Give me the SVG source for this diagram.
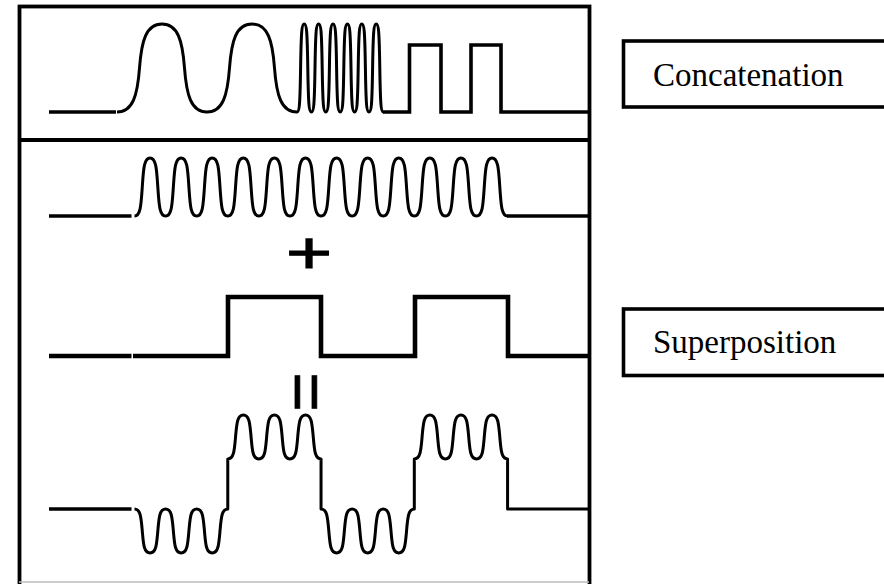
<svg xmlns="http://www.w3.org/2000/svg" width="884" height="584" viewBox="0 0 884 584">
  <style>
    .frame { fill: none; stroke: #000; stroke-width: 3.8; }
    .wave { fill: none; stroke: #000; stroke-width: 3; stroke-linejoin: round; }
    .flat { fill: none; stroke: #000; stroke-width: 3.5; }
    .square { fill: none; stroke: #000; stroke-linejoin: miter; stroke-linecap: butt; }
    .label-box { fill: #fff; stroke: #000; stroke-width: 3.6; }
    .label { font-family: "Liberation Serif", "Times New Roman", serif; font-size: 33px; fill: #000; }
    .op { font-family: "Liberation Sans", Arial, sans-serif; fill: #000; stroke: #000; text-anchor: middle; }
  </style>
  <rect width="884" height="584" fill="#fff"/>

  <g id="frame">
    <rect class="frame" x="19.5" y="6.5" width="570" height="600"/>
    <path class="frame" d="M19.5 140 H589.5" stroke-width="3.5"/>
    <path d="M19 582 H589" stroke="#bdbdbd" stroke-width="1.5" fill="none"/>
  </g>

  <g id="concatenation-signal">
    <path class="flat" d="M49 112 H116" stroke-width="3"/>
    <path class="wave" stroke-width="2.8" d="M117 112 c16 0 20.5 -17 22.5 -44 s6.5 -44 22.5 -44 s20.5 17 22.5 44 s6.5 44 22.5 44 s20.5 -17 22.5 -44 s6.5 -44 22.5 -44 s20.5 17 22.5 44 s6.5 44 22.5 44 c2.3 0 3 -6 3.6 -44 s1.3 -44 3.6 -44 s3 6 3.6 44 s1.3 44 3.6 44 s3 -6 3.6 -44 s1.3 -44 3.6 -44 s3 6 3.6 44 s1.3 44 3.6 44 s3 -6 3.6 -44 s1.3 -44 3.6 -44 s3 6 3.6 44 s1.3 44 3.6 44 s3 -6 3.6 -44 s1.3 -44 3.6 -44 s3 6 3.6 44 s1.3 44 3.6 44 s3 -6 3.6 -44 s1.3 -44 3.6 -44 s3 6 3.6 44 s1.3 44 3.6 44 s3 -6 3.6 -44 s1.3 -44 3.6 -44 s3 6 3.6 44 s1.3 44 3.6 44"/>
    <path class="square" stroke-width="3.6" d="M383 112 H409.5 V45 H441 V112 H471 V45 H501 V112 H589"/>
  </g>

  <g id="carrier-signal">
    <path class="flat" d="M49 216 H131.5" stroke-width="4"/>
    <path class="wave" stroke-width="3.2" d="M134.5 216 c6.2 0 6.6 -12 7.7725 -29 s1.5725 -29 7.7725 -29 s6.6 12 7.7725 29 s1.5725 29 7.7725 29 s6.6 -12 7.7725 -29 s1.5725 -29 7.7725 -29 s6.6 12 7.7725 29 s1.5725 29 7.7725 29 s6.6 -12 7.7725 -29 s1.5725 -29 7.7725 -29 s6.6 12 7.7725 29 s1.5725 29 7.7725 29 s6.6 -12 7.7725 -29 s1.5725 -29 7.7725 -29 s6.6 12 7.7725 29 s1.5725 29 7.7725 29 s6.6 -12 7.7725 -29 s1.5725 -29 7.7725 -29 s6.6 12 7.7725 29 s1.5725 29 7.7725 29 s6.6 -12 7.7725 -29 s1.5725 -29 7.7725 -29 s6.6 12 7.7725 29 s1.5725 29 7.7725 29 s6.6 -12 7.7725 -29 s1.5725 -29 7.7725 -29 s6.6 12 7.7725 29 s1.5725 29 7.7725 29 s6.6 -12 7.7725 -29 s1.5725 -29 7.7725 -29 s6.6 12 7.7725 29 s1.5725 29 7.7725 29 s6.6 -12 7.7725 -29 s1.5725 -29 7.7725 -29 s6.6 12 7.7725 29 s1.5725 29 7.7725 29 s6.6 -12 7.7725 -29 s1.5725 -29 7.7725 -29 s6.6 12 7.7725 29 s1.5725 29 7.7725 29 s6.6 -12 7.7725 -29 s1.5725 -29 7.7725 -29 s6.6 12 7.7725 29 s1.5725 29 7.7725 29 s6.6 -12 7.7725 -29 s1.5725 -29 7.7725 -29 s6.6 12 7.7725 29 s1.5725 29 7.7725 29"/>
    <path class="flat" d="M507 216 H589" stroke-width="4"/>
  </g>

  <g id="plus-sign">
    <g transform="translate(309,252) scale(1,0.76)">
      <text class="op" x="0" y="27.6" font-size="79" stroke-width="1.6">+</text>
    </g>
  </g>

  <g id="square-signal">
    <path class="square" stroke-width="4.6" d="M49 356 H131.5 M133 356 H228 V297 H321 V356 H415 V297 H508 V356 H589"/>
  </g>

  <g id="equals-sign">
    <g transform="translate(307,392) rotate(90)">
      <text class="op" x="0" y="23" font-size="67" stroke-width="0.8">=</text>
    </g>
  </g>

  <g id="superposed-signal">
    <path class="flat" d="M49 509 H131.5" stroke-width="3.3"/>
    <path class="wave" stroke-width="3.3" d="M134.5 509 c6.2 0 6.6 9 7.7725 22 s1.5725 22 7.7725 22 s6.6 -9 7.7725 -22 s1.5725 -22 7.7725 -22 s6.6 9 7.7725 22 s1.5725 22 7.7725 22 s6.6 -9 7.7725 -22 s1.5725 -22 7.7725 -22 s6.6 9 7.7725 22 s1.5725 22 7.7725 22 s6.6 -9 7.7725 -22 s1.5725 -22 7.7725 -22 V459 c6.2 0 6.6 -9 7.7725 -22 s1.5725 -22 7.7725 -22 s6.6 9 7.7725 22 s1.5725 22 7.7725 22 s6.6 -9 7.7725 -22 s1.5725 -22 7.7725 -22 s6.6 9 7.7725 22 s1.5725 22 7.7725 22 s6.6 -9 7.7725 -22 s1.5725 -22 7.7725 -22 s6.6 9 7.7725 22 s1.5725 22 7.7725 22 V509 c6.2 0 6.6 9 7.7725 22 s1.5725 22 7.7725 22 s6.6 -9 7.7725 -22 s1.5725 -22 7.7725 -22 s6.6 9 7.7725 22 s1.5725 22 7.7725 22 s6.6 -9 7.7725 -22 s1.5725 -22 7.7725 -22 s6.6 9 7.7725 22 s1.5725 22 7.7725 22 s6.6 -9 7.7725 -22 s1.5725 -22 7.7725 -22 V459 c6.2 0 6.6 -9 7.7725 -22 s1.5725 -22 7.7725 -22 s6.6 9 7.7725 22 s1.5725 22 7.7725 22 s6.6 -9 7.7725 -22 s1.5725 -22 7.7725 -22 s6.6 9 7.7725 22 s1.5725 22 7.7725 22 s6.6 -9 7.7725 -22 s1.5725 -22 7.7725 -22 s6.6 9 7.7725 22 s1.5725 22 7.7725 22 V509 H589"/>
  </g>

  <g id="label-concatenation">
    <rect class="label-box" x="623.5" y="41" width="280" height="66"/>
    <text class="label" x="653" y="85.5">Concatenation</text>
  </g>

  <g id="label-superposition">
    <rect class="label-box" x="623.5" y="309" width="280" height="66.5"/>
    <text class="label" x="653" y="353">Superposition</text>
  </g>

  <g id="connectors"/>
</svg>
